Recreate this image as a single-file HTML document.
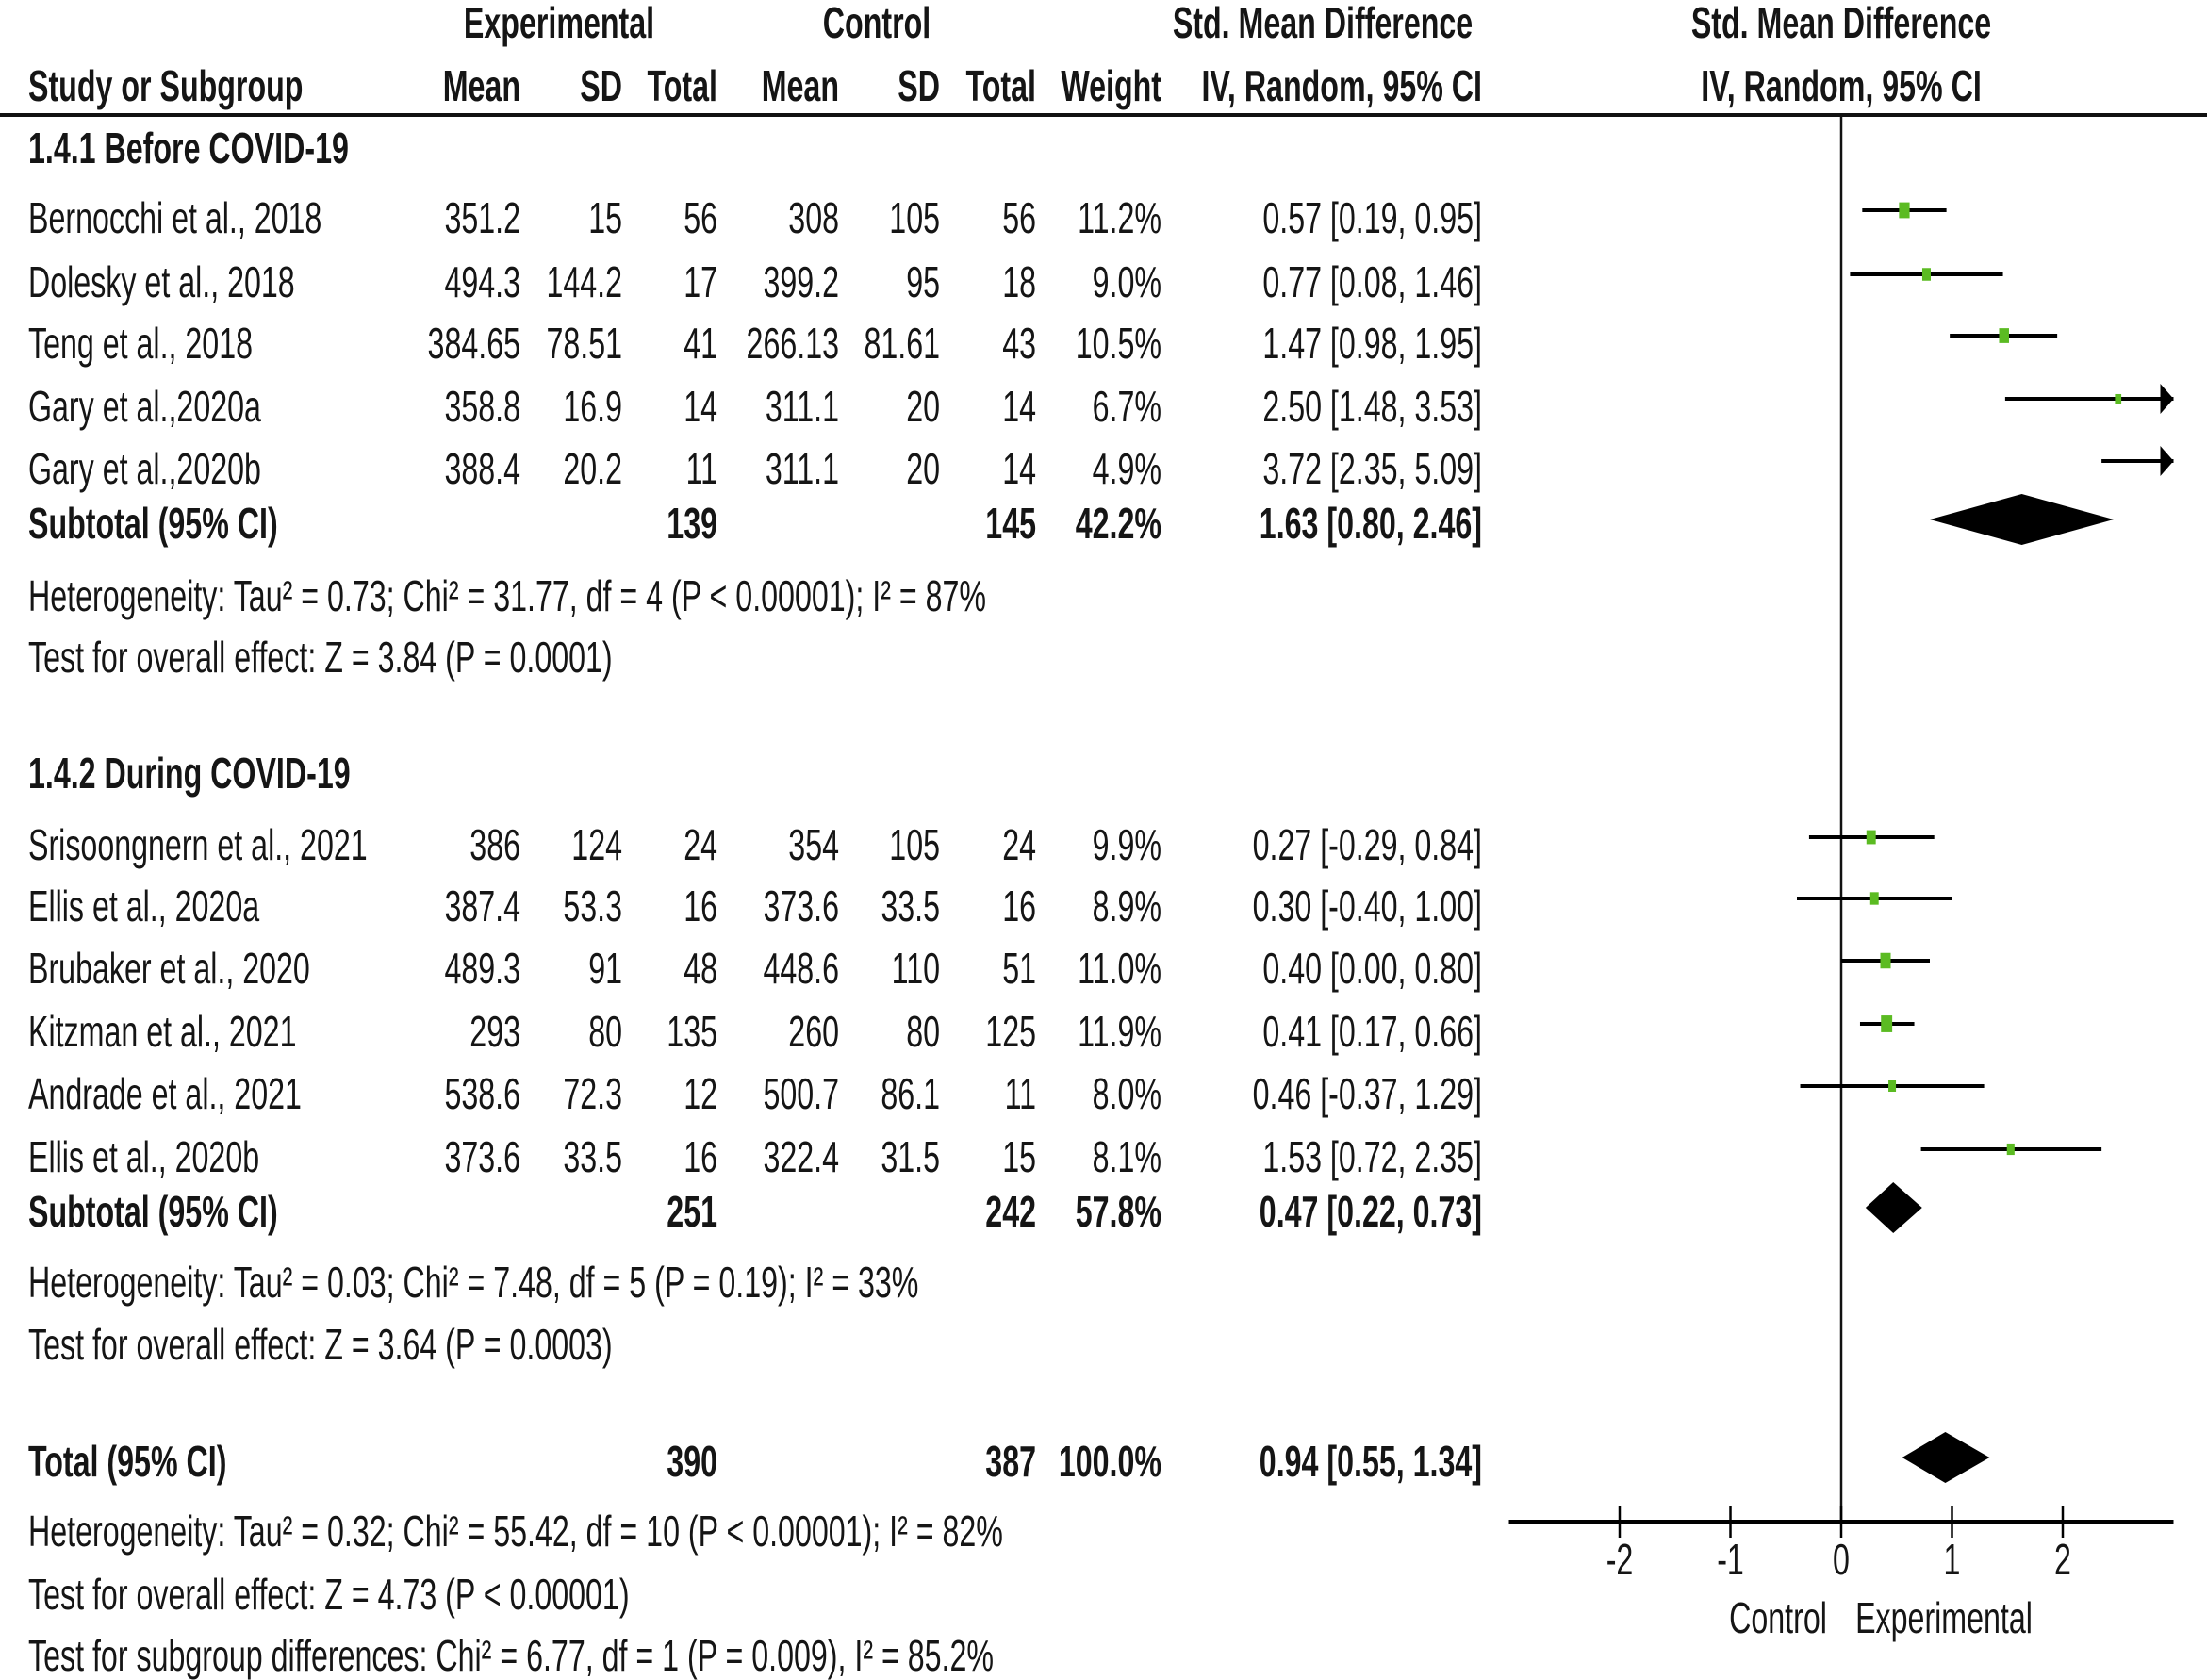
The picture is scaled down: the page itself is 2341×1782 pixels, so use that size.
<!DOCTYPE html>
<html><head><meta charset="utf-8"><style>
html,body{margin:0;padding:0;background:#fff;}
svg{display:block;}
text{font-family:"Liberation Sans",sans-serif;font-size:46px;fill:#151515;}
.b{font-weight:bold;}
</style></head><body>
<svg id="c" width="2341" height="1782" viewBox="0 0 2341 1782"></svg>
<script>
const studies=["Bernocchi et al., 2018","Dolesky et al., 2018","Teng et al., 2018","Gary et al.,2020a","Gary et al.,2020b","Srisoongnern et al., 2021","Ellis et al., 2020a","Brubaker et al., 2020","Kitzman et al., 2021","Andrade et al., 2021","Ellis et al., 2020b"];
const expMean=["351.2","494.3","384.65","358.8","388.4","386","387.4","489.3","293","538.6","373.6"];
const expSD=["15","144.2","78.51","16.9","20.2","124","53.3","91","80","72.3","33.5"];
const expN=[56,17,41,14,11,24,16,48,135,12,16];
const ctlMean=["308","399.2","266.13","311.1","311.1","354","373.6","448.6","260","500.7","322.4"];
const ctlSD=["105","95","81.61","20","20","105","33.5","110","80","86.1","31.5"];
const ctlN=[56,18,43,14,14,24,16,51,125,11,15];
const weights=[11.2,9.0,10.5,6.7,4.9,9.9,8.9,11.0,11.9,8.0,8.1];
const smd=[0.57,0.77,1.47,2.50,3.72,0.27,0.30,0.40,0.41,0.46,1.53];
const ciLo=[0.19,0.08,0.98,1.48,2.35,-0.29,-0.40,0.00,0.17,-0.37,0.72];
const ciHi=[0.95,1.46,1.95,3.53,5.09,0.84,1.00,0.80,0.66,1.29,2.35];
const rowY=[231,299,364,431,497,896,961,1027,1094,1160,1227];
const pooledLabels=["Subtotal (95% CI)","Subtotal (95% CI)","Total (95% CI)"];
const pooledEst=[1.63,0.47,0.94];
const pooledLo=[0.80,0.22,0.55];
const pooledHi=[2.46,0.73,1.34];
const pooledExpN=[139,251,390];
const pooledCtlN=[145,242,387];
const pooledW=["42.2%","57.8%","100.0%"];
const pooledY=[555,1285,1550];
const ticks=[-2,-1,0,1,2];
const xMin=-3,xMax=3;

const svg=document.getElementById('c');
const NS="http://www.w3.org/2000/svg";
const X0=1953,U=117.5;
function xs(v){return X0+v*U;}
function mk(tag,attrs){const e=document.createElementNS(NS,tag);for(const k in attrs)e.setAttribute(k,attrs[k]);svg.appendChild(e);return e;}
function txt(s,x,y,anchor,bold){const e=mk('text',{transform:`translate(${x},${y+16}) scale(0.70,1)`,'text-anchor':anchor||'start'});if(bold)e.setAttribute('class','b');e.textContent=s;return e;}
const colR=[552,660,761,890,997,1099,1232,1572];

// headers
let t;
t=txt("Experimental",593,24,'middle',1);
t=txt("Control",930,24,'middle',1);
t=txt("Std. Mean Difference",1403,24,'middle',1);
t=txt("Std. Mean Difference",1953,24,'middle',1);
t=txt("Study or Subgroup",30,91,'start',1);
const hdr=["Mean","SD","Total","Mean","SD","Total","Weight","IV, Random, 95% CI"];
hdr.forEach((h,i)=>{const e=txt(h,colR[i],91,'end',1);

});
t=txt("IV, Random, 95% CI",1953,91,'middle',1);
let ln=mk('line',{x1:0,y1:122,x2:2341,y2:122,stroke:'#111','stroke-width':4});


t=txt("1.4.1 Before COVID-19",30,157,'start',1);
t=txt("1.4.2 During COVID-19",30,820,'start',1);

// zero line
ln=mk('line',{x1:xs(0),y1:124,x2:xs(0),y2:1614,stroke:'#111','stroke-width':2.5});


// study rows
studies.forEach((s,i)=>{
  const y=rowY[i];
  const vals=[s,expMean[i],expSD[i],expN[i],ctlMean[i],ctlSD[i],ctlN[i],weights[i].toFixed(1)+"%",smd[i].toFixed(2)+" ["+ciLo[i].toFixed(2)+", "+ciHi[i].toFixed(2)+"]"];
  vals.forEach((v,j)=>{const e=j==0?txt(String(v),30,y,'start'):txt(String(v),colR[j-1],y,'end');
    
    });
  const my=y-8;
  const lo=Math.max(ciLo[i],xMin),hi=Math.min(ciHi[i],xMax);
  const l=mk('line',{x1:xs(lo),y1:my,x2:xs(hi),y2:my,stroke:'#000','stroke-width':4});
  
  
  if(ciHi[i]>xMax){const a=mk('polygon',{points:`${xs(xMax)},${my} ${xs(xMax)-14},${my-16} ${xs(xMax)-14},${my+16}`,fill:'#000'});
    
    }
  if(smd[i]>=xMin&&smd[i]<=xMax){const w=weights[i]*1.0,h=weights[i]*1.5;
    const r=mk('rect',{x:xs(smd[i])-w/2,y:my-h/2,width:w,height:h,fill:'#5bbb22'});
    
    }
});

// pooled rows
pooledLabels.forEach((s,i)=>{
  const y=pooledY[i];
  const vals=[[s,30,'start'],[String(pooledExpN[i]),colR[2],'end'],[String(pooledCtlN[i]),colR[5],'end'],[pooledW[i],colR[6],'end'],[pooledEst[i].toFixed(2)+" ["+pooledLo[i].toFixed(2)+", "+pooledHi[i].toFixed(2)+"]",colR[7],'end']];
  vals.forEach(v=>{const e=txt(v[0],v[1],y,v[2],1);
    
    });
  const my=y-4,hh=27;
  const d=mk('polygon',{points:`${xs(pooledLo[i])},${my} ${xs(pooledEst[i])},${my-hh} ${xs(pooledHi[i])},${my} ${xs(pooledEst[i])},${my+hh}`,fill:'#000'});
  
  
});

const notes=[["Heterogeneity: Tau² = 0.73; Chi² = 31.77, df = 4 (P < 0.00001); I² = 87%",632],["Test for overall effect: Z = 3.84 (P = 0.0001)",697],["Heterogeneity: Tau² = 0.03; Chi² = 7.48, df = 5 (P = 0.19); I² = 33%",1360],["Test for overall effect: Z = 3.64 (P = 0.0003)",1426],["Heterogeneity: Tau² = 0.32; Chi² = 55.42, df = 10 (P < 0.00001); I² = 82%",1624],["Test for overall effect: Z = 4.73 (P < 0.00001)",1691],["Test for subgroup differences: Chi² = 6.77, df = 1 (P = 0.009), I² = 85.2%",1756]];
notes.forEach(n=>{const e=txt(n[0],30,n[1],'start');
  
  });

// axis
ln=mk('line',{x1:xs(xMin),y1:1614,x2:xs(xMax),y2:1614,stroke:'#000','stroke-width':4});

ticks.forEach(v=>{
  const l=mk('line',{x1:xs(v),y1:1597,x2:xs(v),y2:1631,stroke:'#000','stroke-width':2.5});
  
  
  const e=txt(String(v),xs(v),1654,'middle');
  
  
});
t=txt("Control",1886,1716,'middle');
t=txt("Experimental",2062,1716,'middle');
</script>
</body></html>
